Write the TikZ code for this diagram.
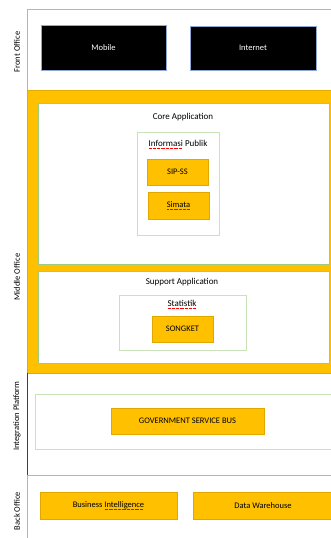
\documentclass[tikz,border=0pt]{standalone}
\usepackage{fontspec}
\setmainfont{Carlito}
\definecolor{gold}{HTML}{FFC000}
\definecolor{golddark}{HTML}{C99700}
\definecolor{greenline}{HTML}{9DCB80}
\definecolor{greenlight}{HTML}{C9E2B8}
\definecolor{blueline}{HTML}{8FA8D8}
\newcommand\spl[1]{\setbox0\hbox{#1}\rlap{\textcolor{red}{\leaders\hbox to 1.3pt{\hss\rule[-1.6pt]{0.8pt}{0.35pt}\hss}\hskip\wd0}}\box0\relax}
\tikzset{
  blackbox/.style={draw=blueline, line width=0.6pt, fill=black, text=white, font=\fontsize{8.5}{10}\selectfont, inner sep=0pt},
  goldbox/.style={draw=golddark!60!gold, line width=0.5pt, fill=gold, text=black, font=\fontsize{8.5}{10}\selectfont, inner sep=0pt},
  container/.style={draw=greenline, line width=0.8pt, fill=white, inner sep=0pt},
  subcontainer/.style={draw=greenlight, line width=0.8pt, fill=white, inner sep=0pt},
  title/.style={font=\fontsize{9}{10}\selectfont, inner sep=0pt},
  sidelabel/.style={rotate=90, font=\fontsize{8.5}{10}\selectfont, inner sep=0pt},
}
\begin{document}
\begin{tikzpicture}[x=1pt,y=-1pt]
\useasboundingbox (0,0) rectangle (330,538);
\fill[white] (0,0) rectangle (330,538);

% Front office frame
\coordinate (fotl) at (27,9);
\coordinate (fotr) at (331,9);
\coordinate (fobl) at (27,90);
\draw[greenline, line width=0.8pt] (fotr) -- (fotl) -- (fobl);
\node[blackbox, minimum width=125pt, minimum height=45pt] (mobile) at (103.5,47.5) {Mobile};
\node[blackbox, minimum width=126pt, minimum height=44pt] (internet) at (253,48) {Internet};
\node[sidelabel] (lfront) at (17,52) {Front Office};

% Middle office
\node[draw=golddark!50!gold, fill=gold, line width=0.6pt, minimum width=305pt, minimum height=283pt, inner sep=0pt] (middle) at (179.5,231.5) {};
\node[sidelabel] (lmiddle) at (17,277) {Middle Office};

\node[container, minimum width=291pt, minimum height=161pt] (core) at (183.5,183.5) {};
\node[title] (coretitle) at (183,117) {Core Application};
\node[subcontainer, minimum width=82pt, minimum height=103pt] (info) at (178,183.5) {};
\node[title] (infotitle) at (178,144) {\spl{Informasi} Publik};
\node[goldbox, minimum width=61pt, minimum height=26pt] (sipss) at (177.5,172) {SIP-SS};
\node[goldbox, minimum width=61pt, minimum height=27pt] (simata) at (178.5,205.5) {\spl{Simata}};

\node[container, minimum width=291pt, minimum height=92pt] (support) at (183.5,317) {};
\node[title] (supporttitle) at (182,282) {Support Application};
\node[subcontainer, minimum width=127pt, minimum height=55pt] (statistik) at (182.5,322.5) {};
\node[title] (stattitle) at (182,304) {\spl{Statistik}};
\node[goldbox, minimum width=61pt, minimum height=26pt] (songket) at (182.5,329) {SONGKET};

% Integration platform
\coordinate (iptop) at (27,373);
\coordinate (ipbot) at (27,475);
\draw[black!75, line width=0.8pt] (iptop) -- (ipbot);
\node[subcontainer, minimum width=298pt, minimum height=55pt] (ipbox) at (184,421.5) {};
\node[goldbox, minimum width=153pt, minimum height=26pt] (gsb) at (187.5,421) {GOVERNMENT SERVICE BUS};
\node[sidelabel] (lint) at (17,416) {Integration Platform};

% Back office
\coordinate (botr) at (331,475);
\coordinate (bobl) at (27,539);
\draw[greenline, line width=0.8pt] (botr) -- (ipbot) -- (bobl);
\node[goldbox, minimum width=137pt, minimum height=27pt] (bi) at (108.5,505.5) {Business \spl{Intelligence}};
\node[goldbox, minimum width=140pt, minimum height=27pt] (dw) at (263,505.5) {Data Warehouse};
\node[sidelabel] (lback) at (17,511) {Back Office};
\end{tikzpicture}
\end{document}
